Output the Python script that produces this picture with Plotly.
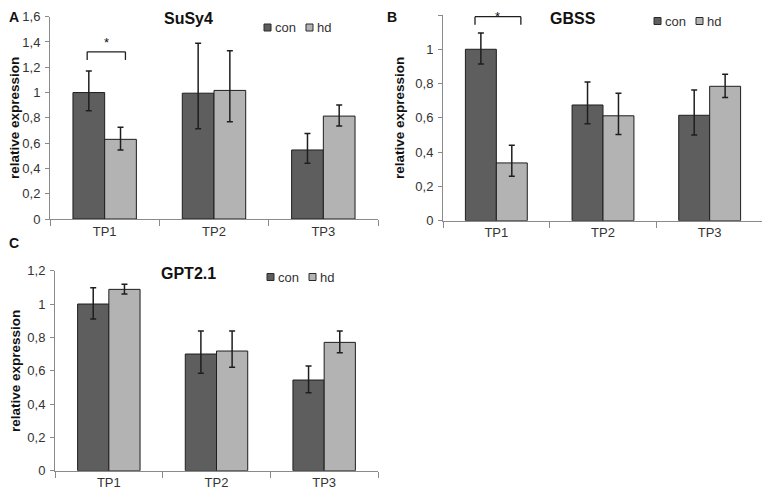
import plotly.graph_objects as go

# The page shows the figure 8 px in from the top-left corner of the window,
# so the figure is sized to fill the rest of the 770x494 view exactly.
VIEW_W, VIEW_H = 770, 494
OFF = 8
FW, FH = VIEW_W - OFF, VIEW_H - OFF
FONT = "Liberation Sans, Arial, sans-serif"

categories = ["TP1", "TP2", "TP3"]
series_names = ["con", "hd"]
colors = {"con": "#5e5e5e", "hd": "#b3b3b3"}

# Panel A: SuSy4
susy4_con = [1.0, 0.995, 0.546]
susy4_hd = [0.63, 1.017, 0.814]
susy4_con_err_plus = [0.17, 0.395, 0.131]
susy4_con_err_minus = [0.143, 0.282, 0.106]
susy4_hd_err_plus = [0.095, 0.314, 0.087]
susy4_hd_err_minus = [0.084, 0.247, 0.078]

# Panel B: GBSS
gbss_con = [1.0, 0.675, 0.615]
gbss_hd = [0.337, 0.612, 0.784]
gbss_con_err_plus = [0.095, 0.134, 0.148]
gbss_con_err_minus = [0.086, 0.109, 0.115]
gbss_hd_err_plus = [0.103, 0.132, 0.07]
gbss_hd_err_minus = [0.078, 0.109, 0.066]

# Panel C: GPT2.1
gpt_con = [1.0, 0.70, 0.544]
gpt_hd = [1.088, 0.718, 0.77]
gpt_con_err_plus = [0.098, 0.138, 0.084]
gpt_con_err_minus = [0.09, 0.116, 0.076]
gpt_hd_err_plus = [0.03, 0.12, 0.068]
gpt_hd_err_minus = [0.028, 0.098, 0.062]


def fx(x):
    return (x - OFF) / FW


def fy(y):
    return 1 - (y - OFF) / FH


def clamp_top(y, half):
    # keep a text box (centre y, half height) inside the visible area
    return max(y, OFF + half)


def clamp_left(x, half):
    return max(x, OFF + half)


panels = [
    dict(letter="A", title="SuSy4",
         con=susy4_con, hd=susy4_hd,
         con_ep=susy4_con_err_plus, con_em=susy4_con_err_minus,
         hd_ep=susy4_hd_err_plus, hd_em=susy4_hd_err_minus, ymax=1.6,
         px=(50, 378), py=(16.7, 219), sig=True, sig_x=(-0.16, 0.19),
         sig_y=(1.258, 1.322), star_py=43,
         title_xy=(188, 18), legend_xy=(264, 27.5), ylab_xy=(15, 118),
         letter_xy=(7, 8)),
    dict(letter="B", title="GBSS",
         con=gbss_con, hd=gbss_hd,
         con_ep=gbss_con_err_plus, con_em=gbss_con_err_minus,
         hd_ep=gbss_hd_err_plus, hd_em=gbss_hd_err_minus, ymax=1.2,
         px=(443, 763), py=(15, 220.7), sig=True, sig_x=(-0.2, 0.23),
         sig_y=(1.143, 1.19), star_py=12,
         title_xy=(573, 13), legend_xy=(654, 21), ylab_xy=(400, 118),
         letter_xy=(392, 10)),
    dict(letter="C", title="GPT2.1",
         con=gpt_con, hd=gpt_hd,
         con_ep=gpt_con_err_plus, con_em=gpt_con_err_minus,
         hd_ep=gpt_hd_err_plus, hd_em=gpt_hd_err_minus, ymax=1.2,
         px=(55, 378), py=(270.7, 470.7), sig=False,
         title_xy=(188, 273), legend_xy=(267, 277), ylab_xy=(15, 371),
         letter_xy=(7, 243)),
]

fig = go.Figure()
annotations = []
shapes = []
layout_axes = {}

for i, p in enumerate(panels):
    n = "" if i == 0 else str(i + 1)
    xa, ya = "x" + n, "y" + n
    for s in series_names:
        fig.add_trace(go.Bar(
            x=categories, y=p[s], name=s, xaxis=xa, yaxis=ya,
            marker=dict(color=colors[s], line=dict(color="#1e1e1e", width=1)),
            error_y=dict(type="data", symmetric=False,
                         array=p[s + "_ep"], arrayminus=p[s + "_em"],
                         color="#1e1e1e", thickness=1.5, width=3),
            showlegend=False,
        ))
    axis_common = dict(showline=True, linecolor="#8a8a8a", linewidth=1,
                       ticks="outside", tickcolor="#8a8a8a", showgrid=False,
                       zeroline=False, automargin=False,
                       tickfont=dict(family=FONT, size=13, color="#333333"))
    layout_axes["xaxis" + n] = dict(domain=[fx(p["px"][0]), fx(p["px"][1])], anchor=ya,
                                    type="category", tickson="boundaries", ticklen=6,
                                    range=[-0.5, 2.5], **axis_common)
    layout_axes["yaxis" + n] = dict(domain=[fy(p["py"][1]), fy(p["py"][0])], anchor=xa,
                                    range=[0, p["ymax"]], dtick=0.2, ticklen=4,
                                    ticklabelstandoff=2, **axis_common)

    # compact legend (swatch + label per series)
    lx, ly = p["legend_xy"]
    for k, s in enumerate(series_names):
        sx = lx + 42 * k
        shapes.append(dict(type="rect", xref="paper", yref="paper",
                           x0=fx(sx), x1=fx(sx + 7), y0=fy(ly + 3.5), y1=fy(ly - 3.5),
                           fillcolor=colors[s], line=dict(color="#2a2a2a", width=1)))
        annotations.append(dict(x=fx(sx + 8.5), y=fy(ly), xref="paper", yref="paper",
                                text=s, showarrow=False, xanchor="left", yanchor="middle",
                                font=dict(family=FONT, size=13, color="#333333")))

    tx, ty = p["title_xy"]
    annotations.append(dict(x=fx(tx), y=fy(clamp_top(ty, 10)), xref="paper", yref="paper",
                            text="<b>%s</b>" % p["title"], showarrow=False,
                            font=dict(family=FONT, size=16, color="#111111"),
                            xanchor="center", yanchor="middle"))
    yx, yy = p["ylab_xy"]
    annotations.append(dict(x=fx(yx), y=fy(yy), xref="paper", yref="paper",
                            text="<b>relative expression</b>", showarrow=False,
                            textangle=-90,
                            font=dict(family=FONT, size=13.5, color="#111111"),
                            xanchor="center", yanchor="middle"))
    ax_, ay_ = p["letter_xy"]
    annotations.append(dict(x=fx(clamp_left(ax_, 6)), y=fy(clamp_top(ay_, 9)),
                            xref="paper", yref="paper",
                            text="<b>%s</b>" % p["letter"], showarrow=False,
                            font=dict(family=FONT, size=14, color="#111111"),
                            xanchor="center", yanchor="middle"))
    if p["sig"]:
        bx0, bx1 = p["sig_x"]
        leg_y, top_y = p["sig_y"][0] / p["ymax"], p["sig_y"][1] / p["ymax"]
        yd = ya + " domain"
        line = dict(color="#1e1e1e", width=1.3)
        shapes.append(dict(type="line", xref=xa, yref=yd, x0=bx0, x1=bx1,
                           y0=top_y, y1=top_y, line=line))
        shapes.append(dict(type="line", xref=xa, yref=yd, x0=bx0, x1=bx0,
                           y0=leg_y, y1=top_y, line=line))
        shapes.append(dict(type="line", xref=xa, yref=yd, x0=bx1, x1=bx1,
                           y0=leg_y, y1=top_y, line=line))
        annotations.append(dict(x=(bx0 + bx1) / 2, y=fy(clamp_top(p["star_py"], 8.5)),
                                xref=xa, yref="paper", text="*", showarrow=False,
                                borderpad=0,
                                font=dict(family=FONT, size=13, color="#111111"),
                                xanchor="center", yanchor="middle"))

fig.update_layout(
    width=FW, height=FH,
    margin=dict(l=0, r=0, t=0, b=0, autoexpand=False),
    paper_bgcolor="white", plot_bgcolor="white",
    barmode="group", bargap=0.42, bargroupgap=0,
    separators=", ",
    showlegend=False,
    font=dict(family=FONT, size=13, color="#333333"),
    annotations=annotations, shapes=shapes,
    **layout_axes,
)

fig.write_html("out.html")
